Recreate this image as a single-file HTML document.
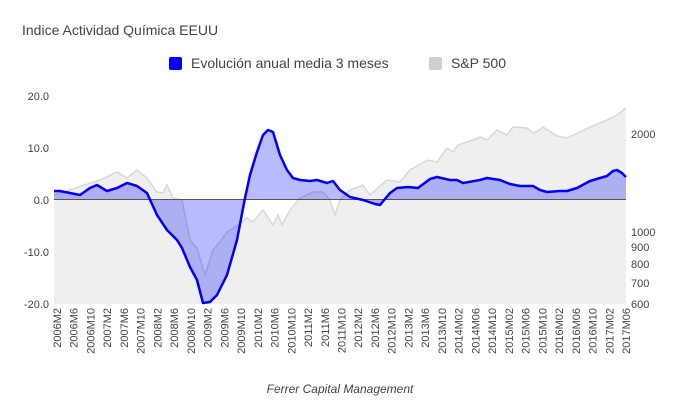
<!DOCTYPE html>
<html><head><meta charset="utf-8"><style>
body{margin:0;background:#fff;}
svg{display:block;font-family:"Liberation Sans",sans-serif;}
</style></head><body>
<svg width="680" height="420" viewBox="0 0 680 420">
<rect width="680" height="420" fill="#fff"/>
<text x="22" y="35" font-size="14" fill="#444">Indice Actividad Química EEUU</text>
<rect x="169" y="57" width="13" height="13" rx="2" fill="#0000ff"/>
<text x="191" y="68" font-size="14" fill="#444">Evolución anual media 3 meses</text>
<rect x="429" y="57" width="13" height="13" rx="2" fill="#cfcfcf"/>
<text x="451" y="68" font-size="14" fill="#444">S&amp;P 500</text>
<!-- gray area -->
<polygon fill="#efefef" stroke="none" points="54,304 54,195 100,180 117,172 127,178 137,170 147,178 157,192 163,193 167,185 173,198 182,200 190,240 197,248 205,275 213,250 220,242 227,232 237,226 247,218 253,222 263,210 273,225 278,215 282,225 290,210 300,198 313,192 323,192 330,200 335,215 340,200 350,190 363,185 370,195 387,180 400,182 410,170 422,163 428,160 437,162 447,148 453,152 458,145 473,140 480,137 487,140 497,130 507,135 513,127 527,128 533,133 540,130 543,127 557,136 567,138 580,132 590,127 607,120 617,115 626,108 626,304"/>
<polyline fill="none" stroke="#d8d8d8" stroke-width="1.5" points="54,195 100,180 117,172 127,178 137,170 147,178 157,192 163,193 167,185 173,198 182,200 190,240 197,248 205,275 213,250 220,242 227,232 237,226 247,218 253,222 263,210 273,225 278,215 282,225 290,210 300,198 313,192 323,192 330,200 335,215 340,200 350,190 363,185 370,195 387,180 400,182 410,170 422,163 428,160 437,162 447,148 453,152 458,145 473,140 480,137 487,140 497,130 507,135 513,127 527,128 533,133 540,130 543,127 557,136 567,138 580,132 590,127 607,120 617,115 626,108"/>
<!-- blue area -->
<polygon fill="rgba(0,0,255,0.27)" points="54,199 54,191 60,191 70,193 80,195 90,188 97,185 107,191 117,188 127,183 137,186 147,193 157,215 167,230 177,240 182,248 190,267 197,280 203,303 210,302 217,295 227,275 237,240 245,198 250,175 257,152 263,135 268,130 273,132 280,155 287,170 293,178 300,180 310,181 317,180 327,183 333,181 340,190 350,197 363,200 375,204 380,205 390,193 397,188 408,187 418,188 430,179 437,177 450,180 457,180 463,183 480,180 487,178 500,180 510,184 520,186 533,186 540,190 547,192 560,191 567,191 577,188 590,181 600,178 607,176 613,171 617,170 622,173 626,177 626,199"/>
<line x1="54" y1="199.5" x2="626" y2="199.5" stroke="#555" stroke-width="1"/>
<polyline fill="none" stroke="#0000ff" stroke-width="2.5" stroke-linejoin="round" points="54,191 60,191 70,193 80,195 90,188 97,185 107,191 117,188 127,183 137,186 147,193 157,215 167,230 177,240 182,248 190,267 197,280 203,303 210,302 217,295 227,275 237,240 245,198 250,175 257,152 263,135 268,130 273,132 280,155 287,170 293,178 300,180 310,181 317,180 327,183 333,181 340,190 350,197 363,200 375,204 380,205 390,193 397,188 408,187 418,188 430,179 437,177 450,180 457,180 463,183 480,180 487,178 500,180 510,184 520,186 533,186 540,190 547,192 560,191 567,191 577,188 590,181 600,178 607,176 613,171 617,170 622,173 626,177"/>
<g font-size="11" fill="#444" text-anchor="end">
<text x="49" y="100">20.0</text><text x="49" y="152">10.0</text><text x="49" y="204">0.0</text><text x="49" y="256">-10.0</text><text x="49" y="308">-20.0</text>
</g>
<g font-size="11" fill="#444">
<text x="631" y="138">2000</text><text x="631" y="236">1000</text><text x="631" y="251">900</text><text x="631" y="268">800</text><text x="631" y="287">700</text><text x="631" y="308">600</text>
</g>
<g font-size="11" fill="#444" text-anchor="end" id="xl"></g>
<text x="340" y="393" font-size="12" font-style="italic" fill="#444" text-anchor="middle">Ferrer Capital Management</text>
</svg>
<script>
var L=["2006M2","2006M6","2006M10","2007M2","2007M6","2007M10","2008M2","2008M6","2008M10","2009M2","2009M6","2009M10","2010M2","2010M6","2010M10","2011M2","2011M6","2011M10","2012M2","2012M6","2012M10","2013M2","2013M6","2013M10","2014M02","2014M06","2014M10","2015M02","2015M06","2015M10","2016M02","2016M06","2016M10","2017M02","2017M06"];
var g=document.getElementById("xl"),s="";
for(var i=0;i<L.length;i++){var x=57+i*(626-57)/34+4;s+='<text transform="translate('+x.toFixed(1)+',308) rotate(-90)">'+L[i]+'</text>';}
g.innerHTML=s;
</script>
</body></html>
